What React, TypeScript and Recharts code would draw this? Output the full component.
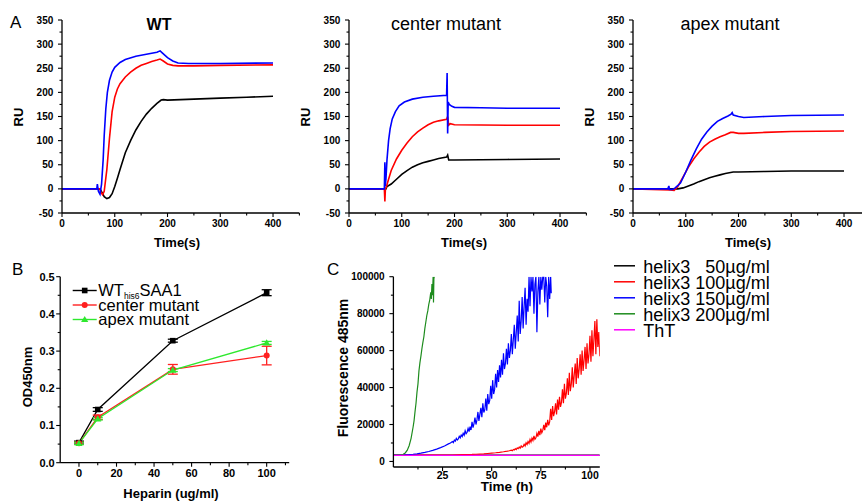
import React from "react"
import { LineChart, Line, XAxis, YAxis, Legend, ErrorBar } from "recharts"

type Pt = [number, number]

// A: SPR sensorgrams, RU vs time (s)
const wtBlack: Pt[] = [[0,0],[72,0],[76,-8],[80,-16],[85,-20],[90,-18],[95,-10],[100,5],[105,22],[110,40],[120,75],[130,100],[140,122],[150,140],[160,155],[170,167],[180,177],[188,184],[192,185],[200,184],[250,186],[300,188],[350,190],[400,192]]
const wtRed: Pt[] = [[0,0],[72,0],[74,-8],[77,-12],[80,-5],[85,40],[90,105],[95,160],[100,190],[105,207],[110,218],[120,232],[130,242],[140,250],[150,256],[160,260],[170,264],[180,267],[186,269],[192,265],[200,259],[210,256],[220,255],[250,255],[300,256],[400,257]]
const wtBlue: Pt[] = [[0,0],[66,0],[67,10],[69,-5],[72,-11],[75,10],[78,60],[80,110],[83,165],[86,200],[90,225],[95,242],[100,252],[110,262],[120,268],[140,275],[160,279],[180,283],[186,286],[190,282],[200,272],[210,265],[220,261],[240,260],[300,260],[400,261]]

const centerBlack: Pt[] = [[0,0],[70,0],[72,5],[80,10],[90,20],[100,30],[110,38],[120,45],[130,50],[140,54],[150,57],[160,60],[170,63],[185,66],[187,70],[189,60],[200,60],[300,61],[400,62]]
const centerRed: Pt[] = [[0,0],[67,0],[68,-26],[69,0],[71,5],[75,20],[80,38],[90,62],[100,80],[110,95],[120,108],[130,118],[140,126],[150,133],[160,138],[170,141],[185,144],[187,150],[189,132],[192,135],[200,133],[300,132],[400,132]]
const centerBlue: Pt[] = [[0,0],[67,0],[68,55],[68.5,5],[70,20],[72,60],[75,100],[78,125],[82,145],[88,160],[95,172],[105,180],[120,186],[140,190],[160,192],[185,194],[186,240],[187,115],[188,180],[190,175],[195,171],[200,169],[250,168],[300,167],[400,167]]

const apexBlack: Pt[] = [[0,0],[85,0],[95,2],[105,6],[115,10],[125,15],[135,19],[145,23],[155,26],[165,29],[175,32],[185,34],[190,35],[200,35],[250,36],[300,37],[400,37]]
const apexRed: Pt[] = [[0,0],[70,-2],[78,-3],[85,5],[95,25],[105,45],[115,62],[125,76],[135,88],[145,97],[155,103],[165,108],[175,112],[185,117],[190,117],[200,115],[210,115],[250,117],[300,119],[400,120]]
const apexBlue: Pt[] = [[0,0],[66,0],[68,6],[69,-1],[75,-1],[80,2],[90,12],[100,35],[110,60],[120,83],[130,103],[140,118],[150,130],[160,140],[170,146],[180,151],[186,155],[188,158],[190,153],[200,150],[210,148],[250,150],[300,152],[400,153]]

const timeMajor = [0, 100, 200, 300, 400]
const timeMinor = [50, 150, 250, 350, 450]
const ruMajor = [-50, 0, 50, 100, 150, 200, 250, 300, 350]
const ruMinor = [-25, 25, 75, 125, 175, 225, 275, 325]

// B: heparin binding
const heparin = [0, 10, 50, 100]
const odWt = [0.054, 0.143, 0.328, 0.457]
const odWtErr = [0.004, 0.005, 0.004, 0.008]
const odCenter = [0.052, 0.122, 0.251, 0.288]
const odCenterErr = [0.003, 0.006, 0.013, 0.025]
const odApex = [0.052, 0.118, 0.249, 0.322]
const odApexErr = [0.003, 0.003, 0.004, 0.004]
const hepMajor = [0, 20, 40, 60, 80, 100]
const hepMinor = [10, 30, 50, 70, 90, 110]
const odMajor = [0, 0.1, 0.2, 0.3, 0.4, 0.5]
const odMinor = [0.05, 0.15, 0.25, 0.35, 0.45]

// C: ThT fluorescence
const tht50: Pt[] = [[0,3400],[105,3400]]
const tht100: Pt[] = [[0,3500],[30,3500],[35,3700],[40,3800],[42,3900],[44,4000],[46,4100],[48,4300],[50,4500],[52,4700],[54,4950],[56,5250],[58,5600],[59,5800],
  [60,6100],[60.5,5800],[61,6500],[61.5,6200],[62,6900],[62.5,6400],[63,7300],[63.5,6900],[64,7800],[64.5,7200],[65,8400],[65.5,7700],[66,8100],[66.5,9300],[67,8400],[67.5,10100],[68,9200],[68.5,10800],[69,9800],[69.5,11900],
  [70,10500],[70.5,12600],[71,11300],[71.5,13800],[72,12000],[72.5,12800],[73,15200],[73.5,13400],[74,16500],[74.5,14200],[75,17800],[75.5,15500],[76,16800],[76.5,19800],[77,17000],[77.5,21000],[78,18500],[78.5,22500],[79,19500],[79.5,21500],
  [80,28500],[80.5,22500],[81,30000],[81.5,24500],[82,27000],[82.5,31500],[83,25500],[83.5,33500],[84,28000],[84.5,35000],[85,29500],[85.5,32000],[86,39000],[86.5,31500],[87,42000],[87.5,34000],[88,37000],[88.5,45000],[89,36000],[89.5,48000],
  [90,38000],[90.5,42000],[91,51000],[91.5,40000],[92,47000],[92.5,53000],[93,42000],[93.5,56000],[94,45000],[94.5,50000],[95,58000],[95.5,47000],[96,60000],[96.5,49000],[97,55000],[97.5,62000],[98,50000],[98.5,64000],[99,53000],[99.5,58000],
  [100,68000],[100.5,54000],[101,71000],[101.5,57000],[102,66000],[102.5,76000],[103,58000],[103.5,77000],[104,62000],[104.5,70000],[105,57000]]
const tht150: Pt[] = [[0,3500],[4,3500],[6,3600],[8,3700],[10,3900],[12,4150],[14,4500],[16,4900],[18,5400],[20,6000],[22,6700],[24,7500],[26,8400],[28,9500],[29,10000],
  [30,10800],[30.5,10200],[31,11600],[31.5,11000],[32,12500],[32.5,11600],[33,12200],[33.5,13600],[34,12800],[34.5,14300],[35,13500],[35.5,15200],[36,14200],[36.5,16600],[37,15000],[37.5,15800],[38,17900],[38.5,16200],[39,18800],[39.5,17000],
  [40,21500],[40.5,18300],[41,20500],[41.5,23800],[42,20000],[42.5,22500],[43,26800],[43.5,22000],[44,25500],[44.5,29000],[45,24000],[45.5,31500],[46,26500],[46.5,28000],[47,34000],[47.5,27500],[48,36500],[48.5,31000],[49,33000],[49.5,41000],
  [50,34000],[50.5,44000],[51,36500],[51.5,39000],[52,47500],[52.5,40000],[53,49500],[53.5,43000],[54,52000],[54.5,45500],[55,55000],[55.5,47000],[56,58500],[56.5,50000],[57,53000],[57.5,61000],[58,52500],[58.5,64000],[59,56000],[59.5,60000],
  [60,69000],[60.5,58000],[61,66000],[61.5,74000],[62,61000],[62.5,70000],[63,79000],[63.5,65000],[64,87000],[64.5,69000],[65,76000],[65.5,89000],[66,72000],[66.5,84000],[67,94000],[67.5,74000],[68,88000],[68.5,81000],[69,100000],[69.5,84000],
  [70,100000],[70.5,92000],[71,100000],[71.5,80000],[72,96000],[72.5,100000],[73,70000],[73.5,92000],[74,100000],[74.5,85000],[75,100000],[75.5,93000],[76,100000],[76.5,100000],[77,86000],[77.5,100000],[78,95000],[78.5,78000],[79,100000],[79.5,88000],
  [80,100000],[80.3,91000]]
const tht200: Pt[] = [[0,3500],[2,3500],[4,3600],[5,3900],[6,4600],[7,6000],[8,8500],[9,12500],[10,18500],[10.5,22000],[11,27000],[11.5,31500],[12,37500],[12.5,42000],[13,49000],[13.5,53500],[14,57000],[14.5,61000],[15,64500],[15.5,67500],[16,72000],[16.5,75500],[17,79000],[17.5,81500],[18,85000],[18.5,87500],[19,91500],[19.3,88000],[19.6,96000],[19.9,90000],[20.2,100000],[20.4,86000],[20.6,99000],[20.8,100000]]
const thtDye: Pt[] = [[0,3300],[105,3300]]
const hourMajor = [25, 50, 75, 100]
const hourMinor = [12.5, 37.5, 62.5, 87.5]
const fluorMajor = [0, 20000, 40000, 60000, 80000, 100000]
const fluorMinor = [10000, 30000, 50000, 70000, 90000]

const FONT = '"Liberation Sans", Arial, sans-serif'
const axisLine = { stroke: "#000", strokeWidth: 1.3 }
const rows = (pts: Pt[]) => pts.map(([x, y]) => ({ x, y }))
const merge = (a: number[], b: number[]) => [...a, ...b].sort((p, q) => p - q)

const makeTick = (side: "x" | "y", majors: number[], fmt: (v: number) => string, fs: number, gap: number) =>
  (props: any) => {
    const { x, y, payload } = props
    const v = payload.value
    const major = majors.some((m) => Math.abs(m - v) < 1e-9)
    const len = major ? 4 : 2.5
    if (side === "y") {
      return (
        <g>
          <line x1={x} y1={y} x2={x - len} y2={y} stroke="#000" strokeWidth={1.1} />
          {major && (
            <text x={x - 4 - gap} y={y} dy="0.36em" textAnchor="end" fontSize={fs} fontWeight="bold" fill="#000" fontFamily={FONT}>
              {fmt(v)}
            </text>
          )}
        </g>
      )
    }
    return (
      <g>
        <line x1={x} y1={y} x2={x} y2={y + len} stroke="#000" strokeWidth={1.1} />
        {major && (
          <text x={x} y={y + 4 + gap} dy="0.72em" textAnchor="middle" fontSize={fs} fontWeight="bold" fill="#000" fontFamily={FONT}>
            {fmt(v)}
          </text>
        )}
      </g>
    )
  }

const plain = (v: number) => String(v)

function SprPanel({ left, title, bold, letter, black, red, blue }: any) {
  return (
    <div style={{ position: "absolute", left, top: 0 }}>
      <LineChart width={310} height={250} margin={{ top: 20, right: 10.6, bottom: 0, left: 0 }}>
        <XAxis type="number" dataKey="x" domain={[0, 450]} allowDataOverflow ticks={merge(timeMajor, timeMinor)} interval={0}
          tickSize={0} tickMargin={0} height={37} axisLine={axisLine} tick={makeTick("x", timeMajor, plain, 10, 2.4)} />
        <YAxis type="number" domain={[-50, 350]} allowDataOverflow ticks={merge(ruMajor, ruMinor)} interval={0}
          tickSize={0} tickMargin={0} width={62} axisLine={axisLine} tick={makeTick("y", ruMajor, plain, 10, 4.7)} />
        <Line data={rows(black)} dataKey="y" stroke="#000" strokeWidth={1.6} dot={false} isAnimationActive={false} />
        <Line data={rows(red)} dataKey="y" stroke="#ff0000" strokeWidth={1.6} dot={false} isAnimationActive={false} />
        <Line data={rows(blue)} dataKey="y" stroke="#0000ff" strokeWidth={1.6} dot={false} isAnimationActive={false} />
        <text x={159} y={30} textAnchor="middle" fontSize={bold ? 16 : 18} fontWeight={bold ? "bold" : "normal"} fontFamily={FONT}>{title}</text>
        {letter && <text x={10} y={28} fontSize={17} fontFamily={FONT}>{letter}</text>}
        <text transform="translate(18,117) rotate(-90)" textAnchor="middle" dy="0.36em" fontSize={13} fontWeight="bold" fontFamily={FONT}>RU</text>
        <text x={177} y={247} textAnchor="middle" fontSize={13} fontWeight="bold" fontFamily={FONT}>Time(s)</text>
      </LineChart>
    </div>
  )
}

const squareDot = (p: any) => <rect key={p.index} x={p.cx - 2.8} y={p.cy - 2.8} width={5.6} height={5.6} fill="#000" />
const triangleDot = (p: any) => (
  <polygon key={p.index} points={`${p.cx},${p.cy - 3.6} ${p.cx - 3.6},${p.cy + 2.6} ${p.cx + 3.6},${p.cy + 2.6}`} fill="#2ee82e" />
)

function HeparinLegend() {
  const lineYs = [10.5, 25, 39.5]
  const colors = ["#000", "#ff2020", "#2ee82e"]
  return (
    <svg width={220} height={54} style={{ display: "block", fontFamily: FONT }}>
      {lineYs.map((ly, i) => (
        <line key={i} x1={2.7} x2={26.7} y1={ly} y2={ly} stroke={colors[i]} strokeWidth={1.4} />
      ))}
      <rect x={11.9} y={lineYs[0] - 2.8} width={5.6} height={5.6} fill="#000" />
      <circle cx={14.7} cy={lineYs[1]} r={3} fill="#ff2020" />
      <polygon points={`14.7,${lineYs[2] - 3.6} 11.1,${lineYs[2] + 2.6} 18.3,${lineYs[2] + 2.6}`} fill="#2ee82e" />
      <text x={28.3} y={15.5} fontSize={16.5}>
        WT<tspan fontSize={8.5} dy={3.5}>his6</tspan><tspan dy={-3.5}>SAA1</tspan>
      </text>
      <text x={28.3} y={30.5} fontSize={16.5}>center mutant</text>
      <text x={28.3} y={45} fontSize={16.5}>apex mutant</text>
    </svg>
  )
}

function HeparinPanel() {
  const wt = heparin.map((h, i) => ({ x: h, y: odWt[i], e: odWtErr[i] }))
  const center = heparin.map((h, i) => ({ x: h, y: odCenter[i], e: odCenterErr[i] }))
  const apex = heparin.map((h, i) => ({ x: h, y: odApex[i], e: odApexErr[i] }))
  return (
    <div style={{ position: "absolute", left: 0, top: 255 }}>
      <LineChart width={300} height={247} margin={{ top: 21.7, right: 10.8, bottom: 0, left: 0 }}>
        <XAxis type="number" dataKey="x" domain={[-10, 112]} allowDataOverflow ticks={merge(hepMajor, hepMinor)} interval={0}
          tickSize={0} tickMargin={0} height={39.3} axisLine={axisLine} tick={makeTick("x", hepMajor, plain, 11, 2.4)} />
        <YAxis type="number" domain={[0, 0.5]} allowDataOverflow ticks={merge(odMajor, odMinor)} interval={0}
          tickSize={0} tickMargin={0} width={60.2} axisLine={axisLine} tick={makeTick("y", odMajor, (v) => v.toFixed(1), 11, 1.5)} />
        <Line data={wt} dataKey="y" name="WT his6 SAA1" stroke="#000" strokeWidth={1.3} dot={squareDot} isAnimationActive={false}>
          <ErrorBar dataKey="e" width={5} stroke="#000" strokeWidth={1.3} direction="y" />
        </Line>
        <Line data={center} dataKey="y" name="center mutant" stroke="#ff2020" strokeWidth={1.3}
          dot={{ r: 3, fill: "#ff2020", stroke: "#ff2020", strokeWidth: 0 }} isAnimationActive={false}>
          <ErrorBar dataKey="e" width={5} stroke="#ff2020" strokeWidth={1.3} direction="y" />
        </Line>
        <Line data={apex} dataKey="y" name="apex mutant" stroke="#2ee82e" strokeWidth={1.3} dot={triangleDot} isAnimationActive={false}>
          <ErrorBar dataKey="e" width={5} stroke="#2ee82e" strokeWidth={1.3} direction="y" />
        </Line>
        <Legend layout="vertical" align="center" verticalAlign="middle" content={() => <HeparinLegend />}
          wrapperStyle={{ left: 70, top: 25, width: 220, height: 54 }} />
        <text x={12} y={20} fontSize={17} fontFamily={FONT}>B</text>
        <text transform="translate(27,122) rotate(-90)" textAnchor="middle" dy="0.36em" fontSize={13} fontWeight="bold" fontFamily={FONT}>OD450nm</text>
        <text x={171} y={243} textAnchor="middle" fontSize={13} fontWeight="bold" fontFamily={FONT}>Heparin (ug/ml)</text>
      </LineChart>
    </div>
  )
}

const thtSeries = [
  { pts: tht50, name: "helix3   50µg/ml", color: "#000000" },
  { pts: tht100, name: "helix3 100µg/ml", color: "#ff0000" },
  { pts: tht150, name: "helix3 150µg/ml", color: "#0000ff" },
  { pts: tht200, name: "helix3 200µg/ml", color: "#1e8c1e" },
  { pts: thtDye, name: "ThT", color: "#ff00ff" },
]

function ThtLegend() {
  return (
    <svg width={250} height={100} style={{ display: "block", fontFamily: FONT }}>
      {thtSeries.map((s, i) => {
        const base = 18.3 + 16 * i
        return (
          <g key={i}>
            <line x1={2} x2={23} y1={base - 7.5} y2={base - 7.5} stroke={s.color} strokeWidth={1.5} />
            <text x={31.3} y={base} fontSize={18} xmlSpace="preserve" style={{ whiteSpace: "pre" }}>{s.name}</text>
          </g>
        )
      })}
    </svg>
  )
}

function ThtPanel() {
  return (
    <div style={{ position: "absolute", left: 320, top: 255 }}>
      <LineChart width={542} height={247} margin={{ top: 21.7, right: 262.2, bottom: 0, left: 0 }}>
        <XAxis type="number" dataKey="x" domain={[0, 105]} allowDataOverflow ticks={merge(hourMajor, hourMinor)} interval={0}
          tickSize={0} tickMargin={0} height={35} axisLine={axisLine} tick={makeTick("x", hourMajor, plain, 10.5, 0.5)} />
        <YAxis type="number" domain={[-3000, 100000]} allowDataOverflow ticks={merge(fluorMajor, fluorMinor)} interval={0}
          tickSize={0} tickMargin={0} width={73.4} axisLine={axisLine} tick={makeTick("y", fluorMajor, plain, 10, 4.7)} />
        {thtSeries.map((s) => (
          <Line key={s.name} data={rows(s.pts)} dataKey="y" name={s.name} stroke={s.color} strokeWidth={1.2} dot={false} isAnimationActive={false} />
        ))}
        <Legend layout="vertical" align="center" verticalAlign="middle" content={() => <ThtLegend />}
          wrapperStyle={{ left: 292, top: 0, width: 250, height: 100 }} />
        <text x={7} y={20} fontSize={17} fontFamily={FONT}>C</text>
        <text transform="translate(23.3,113) rotate(-90)" textAnchor="middle" dy="0.36em" fontSize={14} fontWeight="bold" fontFamily={FONT}>Fluorescence 485nm</text>
        <text x={187} y={236} textAnchor="middle" fontSize={13.5} fontWeight="bold" fontFamily={FONT}>Time (h)</text>
      </LineChart>
    </div>
  )
}

export default function App() {
  return (
    <div style={{ position: "absolute", left: 0, top: 0, width: 862, height: 502, overflow: "hidden", background: "#fff", fontFamily: FONT }}>
      <SprPanel left={0} title="WT" bold letter="A" black={wtBlack} red={wtRed} blue={wtBlue} />
      <SprPanel left={287.3} title="center mutant" black={centerBlack} red={centerRed} blue={centerBlue} />
      <SprPanel left={571.3} title="apex mutant" black={apexBlack} red={apexRed} blue={apexBlue} />
      <HeparinPanel />
      <ThtPanel />
    </div>
  )
}
